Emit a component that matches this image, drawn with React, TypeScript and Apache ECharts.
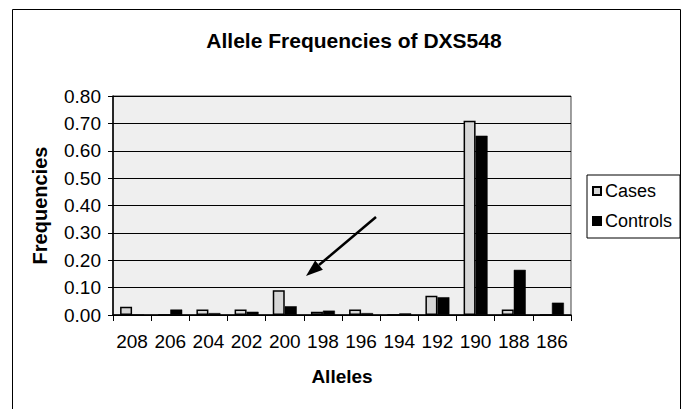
import React, { useEffect, useRef } from "react";
import * as echarts from "echarts";

const titleText = "Allele Frequencies of DXS548";
const alleles = ["208", "206", "204", "202", "200", "198", "196", "194", "192", "190", "188", "186"];
const casesValues = [0.03, 0, 0.02, 0.02, 0.09, 0.012, 0.02, 0, 0.07, 0.71, 0.02, 0];
const controlsValues = [0, 0.02, 0.007, 0.012, 0.032, 0.016, 0.007, 0.006, 0.065, 0.655, 0.165, 0.045];
const seriesNames = ["Cases", "Controls"];
const yAxisTitle = "Frequencies";
const xAxisTitle = "Alleles";

const FONT = "'Liberation Sans', Arial, sans-serif";

export default function App() {
  const ref = useRef<HTMLDivElement>(null);
  useEffect(() => {
    if (!ref.current) return;
    const chart = echarts.init(ref.current, null, { renderer: "svg" });
    const tip = [306, 276];
    const start = [376, 217];
    const dx = tip[0] - start[0];
    const dy = tip[1] - start[1];
    const len = Math.sqrt(dx * dx + dy * dy);
    const ux = dx / len;
    const uy = dy / len;
    const headLen = 17;
    const headHalf = 6;
    const bx = tip[0] - ux * headLen;
    const by = tip[1] - uy * headLen;
    const px = -uy * headHalf;
    const py = ux * headHalf;
    chart.setOption({
      animation: false,
      backgroundColor: "#ffffff",
      textStyle: { fontFamily: FONT },
      title: {
        text: titleText,
        left: 349,
        textAlign: "center",
        top: 25,
        textStyle: { fontFamily: FONT, fontSize: 21, fontWeight: "bold", color: "#000" },
      },
      legend: {
        data: seriesNames,
        orient: "vertical",
        left: 587,
        top: 175,
        backgroundColor: "#ffffff",
        borderColor: "#000",
        borderWidth: 1,
        padding: [7, 8, 8, 5],
        itemGap: 12,
        itemWidth: 8,
        itemHeight: 8,
        icon: "rect",
        textStyle: { fontFamily: FONT, fontSize: 18, color: "#000", padding: [0, 0, 0, -1] },
      },
      grid: {
        left: 113,
        right: 111,
        top: 96,
        bottom: 94,
        show: true,
        backgroundColor: "#efefef",
        borderColor: "#444",
        borderWidth: 1,
      },
      xAxis: {
        type: "category",
        data: alleles,
        name: xAxisTitle,
        nameLocation: "middle",
        nameGap: 52,
        nameTextStyle: { fontFamily: FONT, fontSize: 19, fontWeight: "bold", color: "#000" },
        axisLine: { lineStyle: { color: "#000", width: 1.5 } },
        axisTick: { show: true, alignWithLabel: false, length: 6, lineStyle: { color: "#000" } },
        axisLabel: { fontFamily: FONT, fontSize: 19, color: "#000", margin: 17, interval: 0 },
      },
      yAxis: {
        type: "value",
        min: 0,
        max: 0.8,
        interval: 0.1,
        name: yAxisTitle,
        nameLocation: "middle",
        nameGap: 63,
        nameTextStyle: { fontFamily: FONT, fontSize: 20, fontWeight: "bold", color: "#000" },
        axisLine: { show: true, lineStyle: { color: "#000", width: 1.5 } },
        axisTick: { show: true, length: 5, lineStyle: { color: "#000" } },
        axisLabel: {
          fontFamily: FONT,
          fontSize: 19,
          color: "#000",
          margin: 12,
          formatter: (v: number) => v.toFixed(2),
        },
        splitLine: { show: true, lineStyle: { color: "#000", width: 1.2 } },
      },
      series: [
        {
          name: seriesNames[0],
          type: "bar",
          data: casesValues,
          barWidth: 12,
          barGap: "0%",
          itemStyle: { color: "#d6d6d6", borderColor: "#000", borderWidth: 1.5 },
        },
        {
          name: seriesNames[1],
          type: "bar",
          data: controlsValues,
          barWidth: 12,
          barGap: "0%",
          itemStyle: { color: "#000", borderColor: "#000", borderWidth: 0.5 },
        },
      ],
      graphic: [
        {
          type: "rect",
          shape: { x: 12.5, y: 9.5, width: 668, height: 420 },
          style: { fill: "none", stroke: "#000", lineWidth: 1 },
          silent: true,
          z: 0,
        },
        {
          type: "line",
          shape: { x1: start[0], y1: start[1], x2: bx, y2: by },
          style: { stroke: "#000", lineWidth: 2.5 },
          z: 100,
        },
        {
          type: "polygon",
          shape: {
            points: [
              [tip[0], tip[1]],
              [bx + px, by + py],
              [bx - px, by - py],
            ],
          },
          style: { fill: "#000" },
          z: 100,
        },
      ],
    });
    return () => chart.dispose();
  }, []);
  return (
    <div
      ref={ref}
      style={{ position: "fixed", left: 0, top: 0, width: 682, height: 409 }}
    />
  );
}
